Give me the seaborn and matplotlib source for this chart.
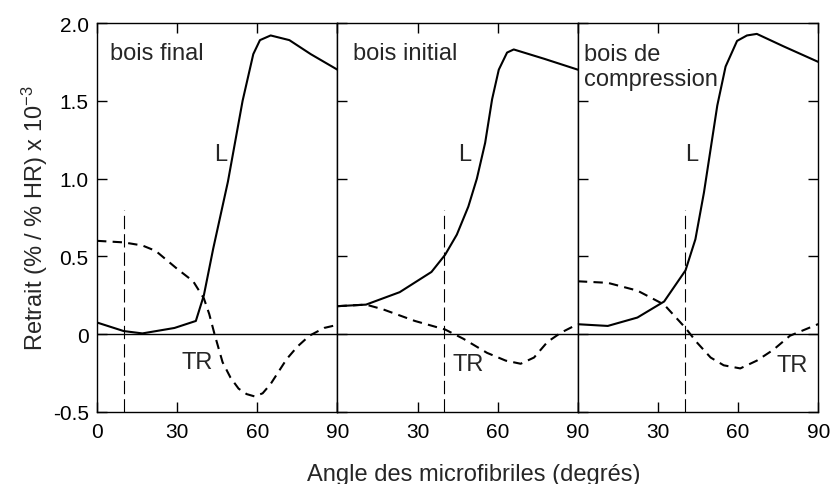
import matplotlib
matplotlib.use("Agg")
import matplotlib.pyplot as plt
import seaborn as sns

# bois final
ang_L_final = [0, 10, 17, 29, 37, 40, 43.5, 49, 54.5, 58.5, 61, 65, 72, 80, 90]
L_final = [0.075, 0.02, 0.005, 0.04, 0.085, 0.25, 0.55, 0.98, 1.5, 1.8, 1.89, 1.92, 1.89, 1.80, 1.70]
ang_TR_final = [0, 10, 17, 22, 30, 36, 40, 42, 44, 47, 50, 53, 56, 59, 62, 65, 68, 71, 75, 79.5, 85, 90]
TR_final = [0.60, 0.59, 0.57, 0.535, 0.42, 0.34, 0.23, 0.13, 0.0, -0.18, -0.28, -0.35, -0.385, -0.40,
            -0.38, -0.32, -0.24, -0.16, -0.08, -0.01, 0.04, 0.06]

# bois initial
ang_L_init = [0, 10.7, 23.3, 35.2, 40.3, 44.7, 49, 52.2, 55.3, 57.9, 60.4, 63.5, 66, 77.4, 90]
L_init = [0.18, 0.19, 0.27, 0.40, 0.51, 0.64, 0.82, 1.0, 1.23, 1.51, 1.70, 1.81, 1.83, 1.77, 1.70]
ang_TR_init = [0, 10.7, 17, 29, 40.3, 47.2, 56, 63, 68.6, 73.6, 78.6, 83.7, 90]
TR_init = [0.18, 0.19, 0.16, 0.085, 0.03, -0.03, -0.12, -0.17, -0.19, -0.15, -0.05, 0.01, 0.065]

# bois de compression
ang_L_comp = [0, 11.2, 22.3, 32.3, 40.3, 44, 47.2, 49.7, 52.2, 55.3, 59.6, 63.3, 67, 77, 90]
L_comp = [0.064, 0.053, 0.107, 0.21, 0.41, 0.61, 0.91, 1.19, 1.47, 1.72, 1.885, 1.92, 1.93, 1.85, 1.75]
ang_TR_comp = [0, 11.2, 22.3, 32.3, 40.3, 44.4, 49.7, 54.6, 60.8, 67, 73.2, 79.4, 90]
TR_comp = [0.34, 0.33, 0.28, 0.19, 0.04, -0.05, -0.15, -0.20, -0.22, -0.17, -0.10, -0.01, 0.065]

panel_titles = ["bois final", "bois initial", "bois de\ncompression"]
ref_angles = [10, 40, 40]
ref_top = 0.8
yticks = [-0.5, 0, 0.5, 1.0, 1.5, 2.0]
ytick_labels = ["-0.5", "0", "0.5", "1.0", "1.5", "2.0"]
xticks = [0, 30, 60, 90]

sns.set_style("ticks")
plt.rcParams["font.family"] = ["Liberation Sans", "DejaVu Sans"]
plt.rcParams["mathtext.default"] = "regular"

fig, axes = plt.subplots(1, 3, figsize=(8.32, 4.85), dpi=100, sharey=True)
fig.subplots_adjust(left=0.1166, right=0.9835, top=0.9505, bottom=0.1485, wspace=0)

series = [
    (ang_L_final, L_final, ang_TR_final, TR_final),
    (ang_L_init, L_init, ang_TR_init, TR_init),
    (ang_L_comp, L_comp, ang_TR_comp, TR_comp),
]
title_pos = [(5, 1.81), (5.7, 1.81), (2.4, 1.72)]
L_pos = [(46.2, 1.16), (47.8, 1.16), (42.7, 1.16)]
TR_pos = [(37.5, -0.18), (49, -0.19), (80.3, -0.20)]

for i, ax in enumerate(axes):
    aL, L, aT, T = series[i]
    ax.axhline(0, color="black", lw=1.0, zorder=1)
    ax.vlines(ref_angles[i], -0.5, ref_top, color="black", lw=0.8,
              linestyles=[(0, (12, 4.5))], zorder=1)
    sns.lineplot(x=aT, y=T, ax=ax, color="black", linewidth=1.5,
                 linestyle=(0, (4.5, 3)), zorder=2)
    sns.lineplot(x=aL, y=L, ax=ax, color="black", linewidth=1.5, zorder=3)

    ax.set_xlim(0, 90)
    ax.set_ylim(-0.5, 2.0)
    ax.set_xticks(xticks)
    if i == 0:
        ax.set_xticklabels(["0", "30", "60", "90"])
    else:
        ax.set_xticklabels(["", "30", "60", "90"])
    ax.set_yticks(yticks)
    ax.set_yticklabels(ytick_labels)
    ax.tick_params(axis="both", direction="in", length=7, width=1, labelsize=15,
                   top=True, right=(i == 2), left=True, colors="black")
    ax.tick_params(axis="x", pad=7)
    ax.tick_params(axis="y", pad=6)
    for s in ax.spines.values():
        s.set_visible(True)
        s.set_linewidth(1.0)
        s.set_color("black")
    ax.set_xlabel("")
    ax.set_ylabel("")

    ax.text(*title_pos[i], panel_titles[i], fontsize=17, ha="left", va="center",
            linespacing=1.2)
    ax.text(*L_pos[i], "L", fontsize=17, ha="center", va="center")
    ax.text(*TR_pos[i], "TR", fontsize=17, ha="center", va="center")

axes[0].set_ylabel("Retrait (% / % HR) x 10$^{-3}$", fontsize=17, labelpad=2)
axes[1].set_xlabel("Angle des microfibriles (degrés)", fontsize=17)
axes[1].xaxis.set_label_coords(0.565, -0.13)
axes[1].xaxis.label.set_va("top")

fig.savefig("out.png", dpi=100, facecolor="white")
